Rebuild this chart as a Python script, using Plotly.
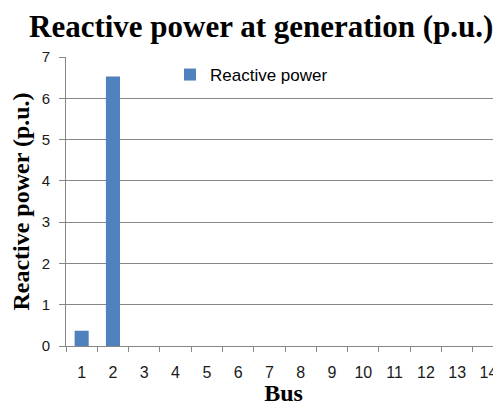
import plotly.graph_objects as go

buses = [str(i) for i in range(1, 15)]
reactive_power = [0.37, 6.53, 0, 0, 0, 0, 0, 0, 0, 0, 0, 0, 0, 0]
y_ticks = [0, 1, 2, 3, 4, 5, 6, 7]

# The page places the figure 8px in from the top-left (default body margin),
# so the figure is sized to fit inside the 501x414 window without scrollbars.
W, H = 493, 398
L, T, B = 58, 49, 60
PW, PH = W - L, H - T - B

fig = go.Figure()
fig.add_trace(go.Bar(
    x=buses, y=reactive_power, name="Reactive power",
    marker=dict(color="#4F81BD", line=dict(width=0)),
    width=0.45, showlegend=True,
))

fig.update_layout(
    template="none",
    width=W, height=H,
    margin=dict(l=L, r=0, t=T, b=B, autoexpand=False),
    paper_bgcolor="white", plot_bgcolor="white",
    title=dict(
        text="<b>Reactive power at generation (p.u.)</b>",
        font=dict(family="Liberation Serif", size=31, color="black"),
        xref="container", yref="container",
        x=21 / W, xanchor="left", y=1 - 18 / H, yanchor="middle",
    ),
    legend=dict(
        x=104 / PW, y=1 - 18 / PH, xanchor="left", yanchor="middle",
        font=dict(family="Liberation Sans", size=17, color="black"),
        bgcolor="rgba(0,0,0,0)", itemwidth=30,
    ),
    xaxis=dict(
        type="category", range=[-0.5, 13.4], automargin=False,
        showline=True, linecolor="#868686", linewidth=1,
        ticks="outside", tickson="boundaries", ticklen=5, tickcolor="#868686",
        tickfont=dict(family="Liberation Sans", size=16, color="#1a1a1a"),
        ticklabelstandoff=12,
        showgrid=False,
        title=dict(text="<b>Bus</b>", font=dict(family="Liberation Serif", size=24, color="black"), standoff=6),
    ),
    yaxis=dict(
        range=[0, 7], tickvals=y_ticks, automargin=False,
        showline=True, linecolor="#868686", linewidth=1,
        ticks="outside", ticklen=6, tickcolor="#868686",
        showgrid=True, gridcolor="#868686", gridwidth=1,
        zeroline=False,
        tickfont=dict(family="Liberation Sans", size=15, color="#1a1a1a"),
        ticklabelstandoff=6,
        title=dict(text="<b>Reactive power (p.u.)</b>", font=dict(family="Liberation Serif", size=24, color="black"), standoff=6),
    ),
)

fig.write_html("out.html")
